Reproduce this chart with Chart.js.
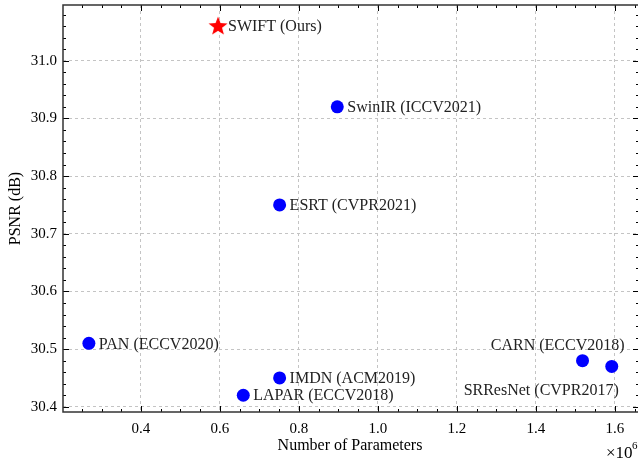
<!DOCTYPE html>
<html>
<head>
<meta charset="utf-8">
<script src="https://cdn.jsdelivr.net/npm/chart.js@4.4.0/dist/chart.umd.min.js"></script>
<style>
  html, body { margin: 0; padding: 0; background: #fff; overflow: hidden; }
  /* canvas is a bit larger than the window: the frame runs off the right edge like the original */
  #wrap { position: absolute; left: 0; top: -10px; width: 650px; height: 469px; }
</style>
</head>
<body>
<div id="wrap"><canvas id="plot"></canvas></div>
<script>
// data (params in millions, PSNR in dB)
const methods = ['SWIFT (Ours)', 'SwinIR (ICCV2021)', 'ESRT (CVPR2021)', 'PAN (ECCV2020)',
                 'IMDN (ACM2019)', 'LAPAR (ECCV2018)', 'CARN (ECCV2018)', 'SRResNet (CVPR2017)'];
const params = [0.595, 0.897, 0.751, 0.268, 0.751, 0.659, 1.518, 1.592];
const psnr = [31.06, 30.92, 30.75, 30.51, 30.45, 30.42, 30.48, 30.47];
const xTicks = [0.4, 0.6, 0.8, 1.0, 1.2, 1.4, 1.6];
const yTicks = [30.4, 30.5, 30.6, 30.7, 30.8, 30.9, 31.0];

const FONT = '"Liberation Serif", "DejaVu Serif", serif';
const SHIFT = 10; // canvas y offset vs. the window

// filled star marker
function makeStar(r, color) {
    const c = document.createElement('canvas');
    c.width = c.height = r * 2 + 2;
    const g = c.getContext('2d');
    g.beginPath();
    for (let i = 0; i < 10; i++) {
        const rad = i % 2 === 0 ? r : r * 0.42;
        const a = -Math.PI / 2 + i * Math.PI / 5;
        g.lineTo(r + 1 + rad * Math.cos(a), r + 1 + 0.5 + rad * Math.sin(a));
    }
    g.closePath();
    g.fillStyle = color;
    g.fill();
    return c;
}

const ours = [{ x: params[0], y: psnr[0], name: methods[0] }];
const others = [];
for (let i = 1; i < methods.length; i++) {
    others.push({ x: params[i], y: psnr[i], name: methods[i] });
}

// where each label sits relative to its point
const labelPos = {
    'CARN (ECCV2018)': 'above',
    'SRResNet (CVPR2017)': 'below'
};

const decorations = {
    id: 'decorations',
    afterDraw(chart) {
        const ctx = chart.ctx;
        const a = chart.chartArea;
        const xs = chart.scales.x, ys = chart.scales.y;
        ctx.save();

        // inside ticks on all four sides
        ctx.strokeStyle = '#000';
        ctx.lineWidth = 1;
        ctx.beginPath();
        for (let v = 0.2; v <= 1.7; v += 0.05) {
            const px = Math.round(xs.getPixelForValue(v)) + 0.5;
            if (px < a.left || px > a.right) continue;
            const major = Math.abs(v * 5 - Math.round(v * 5)) < 1e-6;
            const len = major ? 6 : 3;
            ctx.moveTo(px, a.bottom); ctx.lineTo(px, a.bottom - len);
            ctx.moveTo(px, a.top); ctx.lineTo(px, a.top + len);
        }
        for (let v = 30.38; v <= 31.1; v += 0.02) {
            const py = Math.round(ys.getPixelForValue(v)) + 0.5;
            if (py < a.top || py > a.bottom) continue;
            const major = Math.abs(v * 10 - Math.round(v * 10)) < 1e-6;
            const len = major ? 6 : 3;
            ctx.moveTo(a.left, py); ctx.lineTo(a.left + len, py);
            ctx.moveTo(a.right, py); ctx.lineTo(a.right - len, py);
        }
        ctx.stroke();

        // frame
        ctx.lineWidth = 1.5;
        ctx.strokeStyle = '#333';
        ctx.strokeRect(a.left, a.top, a.right - a.left, a.bottom - a.top);

        // point labels
        ctx.fillStyle = '#222';
        ctx.font = '16px ' + FONT;
        chart.data.datasets.forEach((ds, di) => {
            const meta = chart.getDatasetMeta(di);
            meta.data.forEach((el, i) => {
                const name = ds.data[i].name;
                const pos = labelPos[name] || 'right';
                if (pos === 'right') {
                    ctx.textAlign = 'left';
                    ctx.textBaseline = 'middle';
                    ctx.fillText(name, el.x + 10, el.y + 1);
                } else if (pos === 'above') {
                    ctx.textAlign = 'right';
                    ctx.textBaseline = 'alphabetic';
                    ctx.fillText(name, el.x + 42, el.y - 11);
                } else {
                    ctx.textAlign = 'right';
                    ctx.textBaseline = 'middle';
                    ctx.fillText(name, el.x + 7, el.y + 24);
                }
            });
        });

        // axis titles
        ctx.fillStyle = '#000';
        ctx.font = '16px ' + FONT;
        ctx.textAlign = 'center';
        ctx.textBaseline = 'middle';
        ctx.fillText('Number of Parameters', 350, 446 + SHIFT);
        ctx.save();
        ctx.translate(16, (a.top + a.bottom) / 2);
        ctx.rotate(-Math.PI / 2);
        ctx.fillText('PSNR (dB)', 0, 0);
        ctx.restore();

        // offset text
        ctx.textAlign = 'left';
        ctx.textBaseline = 'alphabetic';
        ctx.font = '17px ' + FONT;
        ctx.fillText('\u00d710', 606, 458 + SHIFT);
        ctx.font = '11px ' + FONT;
        ctx.fillText('6', 632, 449 + SHIFT);

        ctx.restore();
    }
};

document.addEventListener('DOMContentLoaded', function() {
    const canvas = document.getElementById('plot');
    const ctx = canvas.getContext('2d');

    new Chart(ctx, {
        type: 'scatter',
        data: {
            datasets: [{
                data: ours,
                pointStyle: makeStar(10, '#ff0000'),
                pointRadius: 10,
                pointHoverRadius: 10
            }, {
                data: others,
                backgroundColor: '#0000ff',
                borderColor: '#0000ff',
                borderWidth: 0,
                pointRadius: 6.5,
                pointHoverRadius: 6.5
            }]
        },
        options: {
            responsive: true,
            maintainAspectRatio: false,
            animation: false,
            layout: { padding: 0 },
            plugins: {
                legend: { display: false },
                tooltip: { enabled: false }
            },
            scales: {
                x: {
                    type: 'linear',
                    min: 0.2025,
                    max: 1.661,
                    afterBuildTicks: s => { s.ticks = xTicks.map(v => ({ value: v })); },
                    afterFit: s => { s.height = 47; },
                    border: { display: false, dash: [3, 3] },
                    grid: { color: '#c4c4c4', lineWidth: 1, drawTicks: false },
                    ticks: {
                        color: '#000',
                        padding: 8,
                        font: { family: FONT, size: 15 },
                        callback: v => v.toFixed(1)
                    }
                },
                y: {
                    type: 'linear',
                    min: 30.391,
                    max: 31.0965,
                    afterBuildTicks: s => { s.ticks = yTicks.map(v => ({ value: v })); },
                    afterFit: s => { s.width = 63; },
                    border: { display: false, dash: [3, 3] },
                    grid: { color: '#c4c4c4', lineWidth: 1, drawTicks: false },
                    ticks: {
                        color: '#000',
                        padding: 6,
                        font: { family: FONT, size: 15 },
                        callback: v => v.toFixed(1)
                    }
                }
            }
        },
        plugins: [decorations]
    });
});
</script>
</body>
</html>
